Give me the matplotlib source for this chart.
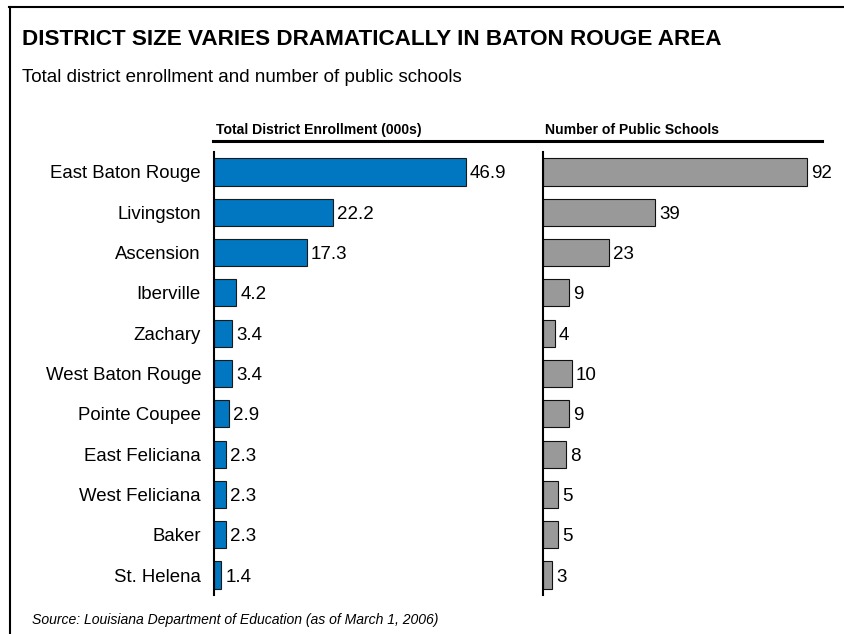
import matplotlib
matplotlib.use("Agg")
import matplotlib.pyplot as plt
from matplotlib.lines import Line2D

plt.rcParams["font.family"] = ["Liberation Sans", "DejaVu Sans"]

districts = ["East Baton Rouge", "Livingston", "Ascension", "Iberville", "Zachary",
             "West Baton Rouge", "Pointe Coupee", "East Feliciana", "West Feliciana",
             "Baker", "St. Helena"]
enrollment = [46.9, 22.2, 17.3, 4.2, 3.4, 3.4, 2.9, 2.3, 2.3, 2.3, 1.4]
schools = [92, 39, 23, 9, 4, 10, 9, 8, 5, 5, 3]
enroll_labels = ["46.9", "22.2", "17.3", "4.2", "3.4", "3.4", "2.9", "2.3", "2.3", "2.3", "1.4"]
school_labels = [str(v) for v in schools]

W, H = 844, 634
fig = plt.figure(figsize=(W / 100, H / 100), dpi=100)
fig.patch.set_facecolor("white")


def fx(px):
    return px / W


def fy(py):
    return 1 - py / H


# frame lines along the left and top
fig.add_artist(Line2D([fx(9.5), fx(9.5)], [fy(7), fy(H)], color="black", lw=1.5))
fig.add_artist(Line2D([fx(9), fx(W)], [fy(7), fy(7)], color="black", lw=1.5))

fig.text(fx(22), fy(45), "DISTRICT SIZE VARIES DRAMATICALLY IN BATON ROUGE AREA",
         fontsize=16.2, fontweight="bold", ha="left", va="baseline")
fig.text(fx(22), fy(81.5), "Total district enrollment and number of public schools",
         fontsize=13.5, ha="left", va="baseline")

top_px, bot_px = 151.85, 595.15
ax_bottom = fy(bot_px)
ax_height = (bot_px - top_px) / H

panels = [
    dict(left=213.5, scale=5.38, xmax=50, values=enrollment, labels=enroll_labels,
         color="#0077C0", edge="#1a1a1a", header="Total District Enrollment (000s)",
         header_x=216),
    dict(left=543.3, scale=2.862, xmax=100, values=schools, labels=school_labels,
         color="#999999", edge="#111111", header="Number of Public Schools",
         header_x=545),
]

for i, p in enumerate(panels):
    width_px = p["xmax"] * p["scale"]
    ax = fig.add_axes([fx(p["left"]), ax_bottom, width_px / W, ax_height])
    y = list(range(len(districts)))
    ax.barh(y, p["values"], height=0.67, color=p["color"], edgecolor=p["edge"],
            linewidth=0.8, zorder=2)
    ax.set_xlim(0, p["xmax"])
    ax.set_ylim(len(districts) - 0.5, -0.5)
    for side in ["top", "right", "bottom"]:
        ax.spines[side].set_visible(False)
    ax.spines["left"].set_linewidth(1.5)
    ax.spines["left"].set_zorder(3)
    ax.set_xticks([])
    ax.tick_params(axis="y", length=0, pad=9, labelsize=13.4)
    if i == 0:
        ax.set_yticks(y)
        ax.set_yticklabels(districts)
    else:
        ax.set_yticks([])
    ax.patch.set_alpha(0)
    for yi, v, lab in zip(y, p["values"], p["labels"]):
        ax.annotate(lab, (v, yi), xytext=(3, 0), textcoords="offset points",
                    ha="left", va="center_baseline", fontsize=13.5)
    fig.text(fx(p["header_x"]), fy(134), p["header"], fontsize=10.1,
             fontweight="bold", ha="left", va="baseline")

# rule under the column headers
fig.add_artist(Line2D([fx(213), fx(822)], [fy(141), fy(141)], color="black", lw=2.2))

fig.text(fx(32), fy(624), "Source: Louisiana Department of Education (as of March 1, 2006)",
         fontsize=10.1, style="italic", ha="left", va="baseline")

fig.savefig("out.png", dpi=100)
